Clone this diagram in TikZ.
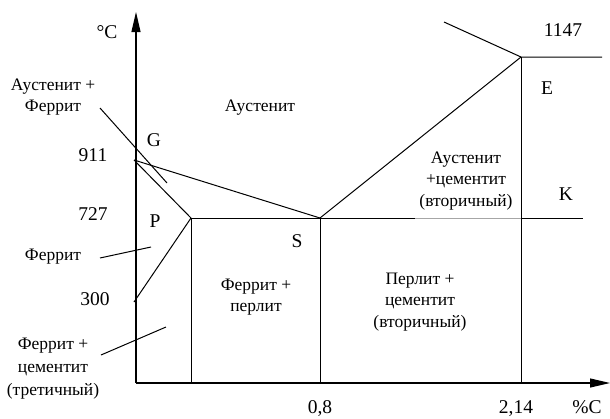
\documentclass[tikz,border=0pt]{standalone}
\usepackage{fontspec}
\setmainfont{Liberation Serif}
\usetikzlibrary{arrows.meta}
\begin{document}
\begin{tikzpicture}[x=1pt,y=-1pt,
  ln/.style={line width=1pt},
  faint/.style={line width=0.8pt, draw=black!35},
  lbl/.style={font=\fontsize{17.5}{21.5}\selectfont, align=center, inner sep=0pt},
  lblw/.style={font=\fontsize{17.5}{23}\selectfont, align=center, inner sep=0pt},
  num/.style={font=\fontsize{19.5}{23}\selectfont, inner sep=0pt},
  ax/.style={line width=1.1pt, -{Triangle[length=20pt,width=9pt]}}]
\useasboundingbox (0,0) rectangle (610,418);
% key points
\coordinate (O) at (136,383);
\coordinate (Ytop) at (136,12);
\coordinate (Xend) at (610,383);
\coordinate (G) at (134,160);
\coordinate (P) at (191,218);
\coordinate (S) at (320,218);
\coordinate (E) at (521,57);
\coordinate (T300) at (134,302);
\coordinate (Pb) at (191,383);
\coordinate (Sb) at (320,383);
\coordinate (Eb) at (521,383);
\coordinate (Kr) at (583,218);
\coordinate (Er) at (602,57);
\coordinate (El) at (444,22);
\coordinate (H1) at (415,218);
\coordinate (H2) at (521,218);
% leader ends
\coordinate (L1a) at (100,108);
\coordinate (L1b) at (167,183);
\coordinate (L2a) at (100,258);
\coordinate (L2b) at (151,247);
\coordinate (L3a) at (101,355);
\coordinate (L3b) at (166,327);
% axes
\draw[ax] (O) -- (Ytop);
\draw[ax] (O) -- (Xend);
% lines
\draw[ln] (G) -- (S) -- (E) -- (Er);
\draw[ln] (E) -- (El);
\draw[ln] (G) -- (P) -- (T300);
\draw[ln] (P) -- (Pb);
\draw[ln] (S) -- (Sb);
\draw[ln] (E) -- (Eb);
\draw[ln] (P) -- (H1);
\draw[faint] (H1) -- (H2);
\draw[ln] (H2) -- (Kr);
\draw[ln] (L1a) -- (L1b);
\draw[ln] (L2a) -- (L2b);
\draw[ln] (L3a) -- (L3b);
% numbers and letters
\node[num] (degC) at (107,32) {°C};
\node[num] (n911) at (93,155) {911};
\node[num] (n727) at (93,214.5) {727};
\node[num] (n300) at (95,299) {300};
\node[num] (n1147) at (563,30) {1147};
\node[num] (n08) at (320,409) {0,8};
\node[num] (n214) at (516,409) {2,14};
\node[num] (pctC) at (587,407) {\%C};
\node[num] (lG) at (154,140) {G};
\node[num] (lP) at (155,221) {P};
\node[num] (lS) at (297,241) {S};
\node[num] (lE) at (547,88.5) {E};
\node[num] (lK) at (566,194) {K};
% region labels
\node[lbl] (tA) at (260,108) {Аустенит};
\node[lbl] (tAF) at (53,97) {Аустенит +\\Феррит};
\node[lbl] (tF) at (53,257) {Феррит};
\node[lblw] (tFC) at (53,369) {Феррит +\\цементит\\(третичный)};
\node[lbl] (tFP) at (256,297) {Феррит +\\перлит};
\node[lbl] (tAC) at (466,181) {Аустенит\\+цементит\\(вторичный)};
\node[lbl] (tPC) at (420,302) {Перлит +\\цементит\\(вторичный)};
\end{tikzpicture}
\end{document}
